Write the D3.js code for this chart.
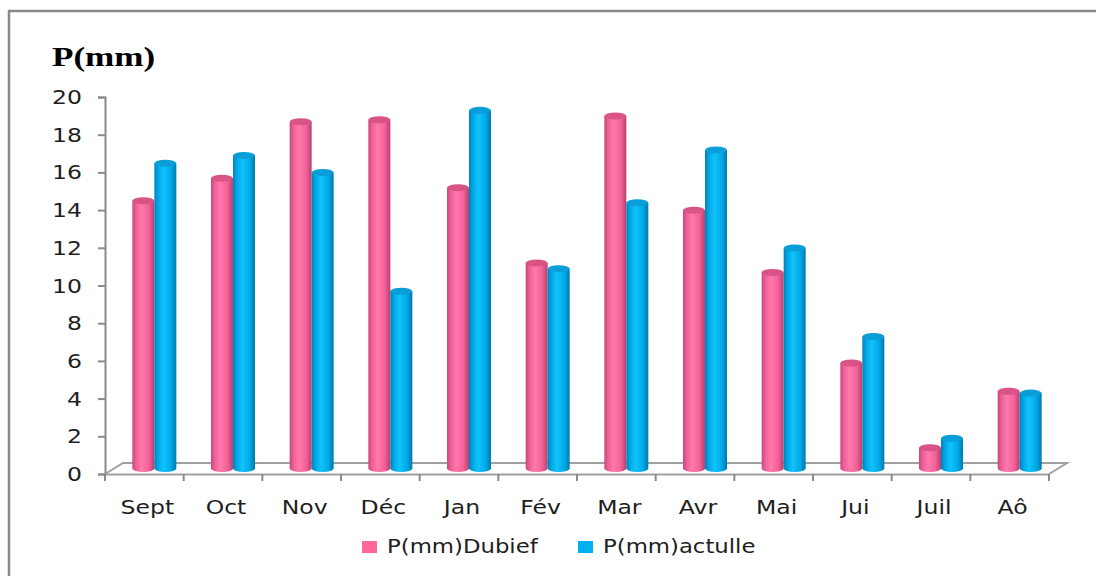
<!DOCTYPE html>
<html>
<head>
<meta charset="utf-8">
<script src="https://cdn.jsdelivr.net/npm/d3@7"></script>
<style>
  body { margin: 0; background: #fff; }
  text { font-family: "DejaVu Sans", sans-serif; fill: #1e1e1e; }
</style>
</head>
<body>
<div id="chart"></div>
<script>
// data
const months = ["Sept", "Oct", "Nov", "Déc", "Jan", "Fév", "Mar", "Avr", "Mai", "Jui", "Juil", "Aô"];
const dubief = [14.2, 15.4, 18.4, 18.5, 14.9, 10.9, 18.7, 13.7, 10.4, 5.6, 1.1, 4.1];
const actulle = [16.2, 16.6, 15.7, 9.4, 19.0, 10.6, 14.1, 16.9, 11.7, 7.0, 1.6, 4.0];
const seriesNames = ["P(mm)Dubief", "P(mm)actulle"];
const yTicks = [0, 2, 4, 6, 8, 10, 12, 14, 16, 18, 20];

const W = 1096, H = 576;
const stretch = 1.24;          // text in the picture is wide
const depth = {dx: 18, dy: -11}; // 3d floor depth
const barW = 22;

const svg = d3.select("#chart").append("svg")
    .attr("width", W)
    .attr("height", H);

let defs = svg.append("defs");
function cylGrad(id, stops) {
  let g = defs.append("linearGradient").attr("id", id)
      .attr("x1", "0%").attr("x2", "100%").attr("y1", "0%").attr("y2", "0%");
  stops.forEach(function(s) {
    g.append("stop").attr("offset", s[0]).attr("stop-color", s[1]);
  });
}
cylGrad("gPink", [["0%", "#c9487a"], ["18%", "#f0609a"], ["42%", "#ff79aa"], ["75%", "#f3619a"], ["100%", "#b93f6e"]]);
cylGrad("gBlue", [["0%", "#0083ba"], ["18%", "#00a8e6"], ["42%", "#12c2fb"], ["75%", "#00aae8"], ["100%", "#0079ad"]]);

const colors = {fill: ["url(#gPink)", "url(#gBlue)"], top: ["#d85485", "#0a9ed8"], key: ["#ff6699", "#00b0f0"]};

// frame
svg.append("rect")
    .attr("x", 9).attr("y", 11)
    .attr("width", W + 20).attr("height", H + 20)
    .attr("fill", "none")
    .attr("stroke", "#8a8a8a")
    .attr("stroke-width", 2.5);

let x = d3.scaleBand()
    .domain(months)
    .range([105, 1049]);

let y = d3.scaleLinear()
    .domain([0, 20])
    .range([474, 97]);

// floor
let x0 = x.range()[0], x1 = x.range()[1], y0 = y(0);
svg.append("path")
    .attr("d", `M${x0},${y0} L${x0 + depth.dx},${y0 + depth.dy} L${x1 + depth.dx},${y0 + depth.dy} L${x1},${y0}`)
    .attr("fill", "none")
    .attr("stroke", "#a0a0a0")
    .attr("stroke-width", 2);

// y axis
let yAxis = svg.append("g")
    .attr("transform", `translate(${x0},0)`)
    .call(d3.axisLeft(y).tickValues(yTicks).tickSize(7).tickFormat(""));
yAxis.selectAll("line, path").attr("stroke", "#8a8a8a").attr("stroke-width", 2);

svg.append("g").selectAll("text")
    .data(yTicks)
    .join("text")
    .attr("transform", function(d) { return `translate(82,${y(d) + 7}) scale(${stretch},1)`; })
    .attr("text-anchor", "end")
    .style("font-size", "19px")
    .text(function(d) { return d; });

// x axis
let xAxis = svg.append("g")
    .attr("transform", `translate(0,${y0})`)
    .call(d3.axisBottom(x).tickSize(0).tickFormat(""));
xAxis.select("path").attr("stroke", "#a0a0a0").attr("stroke-width", 2);

svg.append("g").selectAll("line")
    .data(months.map(function(m) { return x(m); }).concat([x1]))
    .join("line")
    .attr("x1", function(d) { return d; })
    .attr("x2", function(d) { return d; })
    .attr("y1", y0)
    .attr("y2", y0 + 7)
    .attr("stroke", "#8a8a8a")
    .attr("stroke-width", 2);

svg.append("g").selectAll("text")
    .data(months)
    .join("text")
    .attr("transform", function(d) { return `translate(${x(d) + x.bandwidth() / 2 + 3},514) scale(${stretch},1)`; })
    .attr("text-anchor", "middle")
    .style("font-size", "19px")
    .text(function(d) { return d; });

// cylinders
let rows = [];
months.forEach(function(m, i) {
  rows.push({m: m, s: 0, v: dubief[i]});
  rows.push({m: m, s: 1, v: actulle[i]});
});

let midDx = depth.dx / 2 + 1, midDy = depth.dy / 2;
let ry = 3.5;
let bars = svg.append("g").selectAll("g")
    .data(rows)
    .join("g")
    .attr("transform", function(d) {
      let cx = x(d.m) + x.bandwidth() / 2 + midDx + (d.s === 0 ? -barW : 0);
      return `translate(${cx},${midDy})`;
    });

bars.append("path")
    .attr("d", function(d) {
      let yt = y(d.v), yb = y(0);
      return `M0,${yt} L0,${yb} A${barW / 2},${ry} 0 0 0 ${barW},${yb} L${barW},${yt} Z`;
    })
    .attr("fill", function(d) { return colors.fill[d.s]; });

bars.append("ellipse")
    .attr("cx", barW / 2)
    .attr("cy", function(d) { return y(d.v); })
    .attr("rx", barW / 2)
    .attr("ry", ry)
    .attr("fill", function(d) { return colors.top[d.s]; });

// title
svg.append("text")
    .attr("transform", `translate(52,66) scale(1.3,1)`)
    .style("font-family", "'Liberation Serif', serif")
    .style("font-weight", "bold")
    .style("font-size", "27px")
    .style("fill", "#000")
    .text("P(mm)");

// legend
let legend = svg.append("g").selectAll("g")
    .data(seriesNames)
    .join("g")
    .attr("transform", function(d, i) { return `translate(${362 + i * 216},0)`; });

legend.append("rect")
    .attr("x", 0).attr("y", 541)
    .attr("width", 15).attr("height", 12)
    .attr("fill", function(d, i) { return colors.key[i]; });

legend.append("text")
    .attr("transform", `translate(25,553) scale(1.2,1)`)
    .style("font-size", "19px")
    .text(function(d) { return d; });
</script>
</body>
</html>
